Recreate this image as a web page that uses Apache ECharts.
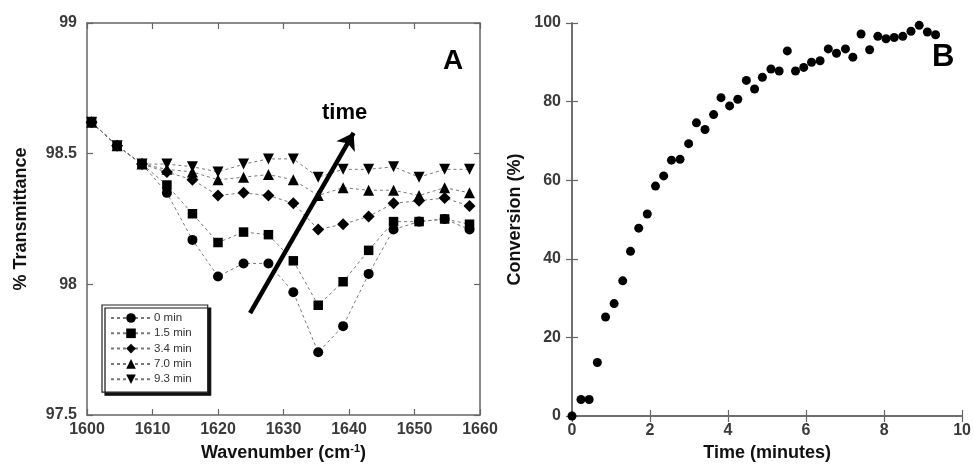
<!DOCTYPE html>
<html>
<head>
<meta charset="utf-8">
<script src="https://cdn.jsdelivr.net/npm/echarts@6/dist/echarts.min.js"></script>
<style>
html,body{margin:0;padding:0;background:#fff;}
#c{width:974px;height:470px;}
</style>
</head>
<body>
<div id="c"></div>
<script>
// ---- Panel A data ----
var wavenumber = [1600.7, 1604.6, 1608.4, 1612.2, 1616.1, 1620.0, 1623.9, 1627.7, 1631.5, 1635.3, 1639.1, 1643.0, 1646.8, 1650.7, 1654.6, 1658.4];
var t0min  = [98.62, 98.53, 98.46, 98.35, 98.17, 98.03, 98.08, 98.08, 97.97, 97.74, 97.84, 98.04, 98.21, 98.24, 98.25, 98.21];
var t15min = [98.62, 98.53, 98.46, 98.38, 98.27, 98.16, 98.20, 98.19, 98.09, 97.92, 98.01, 98.13, 98.24, 98.24, 98.25, 98.23];
var t34min = [98.62, 98.53, 98.46, 98.43, 98.40, 98.34, 98.35, 98.34, 98.31, 98.21, 98.23, 98.26, 98.31, 98.32, 98.33, 98.30];
var t70min = [98.62, 98.53, 98.46, 98.44, 98.43, 98.40, 98.41, 98.42, 98.40, 98.34, 98.37, 98.36, 98.36, 98.34, 98.37, 98.35];
var t93min = [98.62, 98.53, 98.46, 98.46, 98.45, 98.43, 98.46, 98.48, 98.48, 98.41, 98.44, 98.44, 98.45, 98.41, 98.44, 98.44];
var seriesNames = ['0 min', '1.5 min', '3.4 min', '7.0 min', '9.3 min'];
var arrowStart = [1624.9, 97.89];
var arrowEnd = [1640.7, 98.58];

// ---- Panel B data ----
var timeMin = [0, 0.23, 0.44, 0.65, 0.86, 1.08, 1.30, 1.50, 1.71, 1.93, 2.14, 2.35, 2.55, 2.77, 2.99, 3.19, 3.41, 3.63, 3.82, 4.04, 4.25, 4.47, 4.68, 4.88, 5.10, 5.31, 5.52, 5.73, 5.94, 6.14, 6.36, 6.57, 6.78, 7.01, 7.20, 7.41, 7.63, 7.84, 8.05, 8.26, 8.48, 8.69, 8.90, 9.11, 9.32];
var conversion = [0, 4.2, 4.2, 13.6, 25.2, 28.6, 34.4, 41.9, 47.8, 51.4, 58.5, 61.1, 65.1, 65.3, 69.3, 74.6, 72.9, 76.7, 81.0, 78.9, 80.6, 85.4, 83.2, 86.2, 88.3, 87.8, 92.9, 87.8, 88.7, 90.0, 90.4, 93.4, 92.3, 93.4, 91.3, 97.2, 93.2, 96.6, 96.0, 96.3, 96.6, 97.9, 99.4, 97.7, 97.0];

function zip(xs, ys){ return xs.map(function(x,i){ return [x, ys[i]]; }); }

var FONT = '"Liberation Sans", Arial, sans-serif';
var axisLineC = '#666';
var tickLabel = {color:'#3a3a3a', fontSize:16, fontWeight:'bold', fontFamily:FONT, formatter:function(v){ return String(v); }};
var nameStyle = {color:'#111', fontSize:18, fontWeight:'bold', fontFamily:FONT};

function mainAxis(gridIndex, extra){
  var a = {
    gridIndex: gridIndex,
    axisLine:{show:true, lineStyle:{color:axisLineC, width:1.5}},
    axisTick:{show:true, inside:true, length:6, lineStyle:{color:axisLineC, width:1.2}},
    splitLine:{show:false},
    axisLabel: Object.assign({}, tickLabel)
  };
  return Object.assign(a, extra);
}
function mirrorAxis(gridIndex, extra){
  var a = {
    gridIndex: gridIndex,
    axisLine:{show:true, lineStyle:{color:axisLineC, width:1.5}},
    axisTick:{show:true, inside:true, length:6, lineStyle:{color:axisLineC, width:1.2}},
    axisLabel:{show:false},
    splitLine:{show:false}
  };
  return Object.assign(a, extra);
}

var symbols = [
  {symbol:'circle', size:10, rotate:0},
  {symbol:'rect', size:9.5, rotate:0},
  {symbol:'diamond', size:12, rotate:0},
  {symbol:'triangle', size:11, rotate:0},
  {symbol:'triangle', size:11, rotate:180}
];
var dataA = [t0min, t15min, t34min, t70min, t93min];

var seriesA = dataA.map(function(vals, i){
  return {
    name: seriesNames[i],
    type:'line',
    xAxisIndex:0, yAxisIndex:0,
    data: zip(wavenumber, vals),
    symbol: symbols[i].symbol,
    symbolSize: symbols[i].size,
    symbolRotate: symbols[i].rotate,
    showAllSymbol:true,
    itemStyle:{color:'#000'},
    lineStyle:{color:'#777', width:1, type:[3,3]},
    z: 3
  };
});

var option = {
  animation:false,
  backgroundColor:'#fff',
  grid:[
    {left:87, right:494, top:23, bottom:55},
    {left:572, right:9, top:23, bottom:54}
  ],
  xAxis:[
    mainAxis(0, {type:'value', min:1600, max:1660, interval:10, position:'bottom',
      axisLabel:Object.assign({}, tickLabel, {margin:7}),
      name:'Wavenumber (cm{sup|-1})', nameLocation:'middle', nameGap:28,
      nameTextStyle:Object.assign({}, nameStyle, {rich:{sup:{fontSize:11, fontWeight:'bold', color:'#111', fontFamily:FONT, padding:[0,0,10,0]}}})}),
    mirrorAxis(0, {type:'value', min:1600, max:1660, interval:10, position:'top'}),
    mainAxis(1, {type:'value', min:0, max:10, interval:2, position:'bottom',
      axisLabel:Object.assign({}, tickLabel, {margin:7}),
      name:'Time (minutes)', nameLocation:'middle', nameGap:28, nameTextStyle:nameStyle}),
    mirrorAxis(1, {type:'value', min:0, max:10, interval:2, position:'top'})
  ],
  yAxis:[
    mainAxis(0, {type:'value', min:97.5, max:99, interval:0.5, position:'left',
      axisLabel:Object.assign({}, tickLabel, {margin:10}),
      name:'% Transmittance', nameLocation:'middle', nameGap:57, nameTextStyle:nameStyle}),
    mirrorAxis(0, {type:'value', min:97.5, max:99, interval:0.5, position:'right'}),
    mainAxis(1, {type:'value', min:0, max:100, interval:20, position:'left',
      axisLabel:Object.assign({}, tickLabel, {margin:11}),
      name:'Conversion (%)', nameLocation:'middle', nameGap:48, nameTextStyle:nameStyle}),
    mirrorAxis(1, {type:'value', min:0, max:100, interval:20, position:'right'})
  ],
  legend:{
    data: seriesNames,
    orient:'vertical',
    left:102, top:305,
    padding:[7,16,7,8],
    itemWidth:40, itemHeight:12, itemGap:3.3,
    backgroundColor:'#fff',
    borderColor:'#222', borderWidth:1.2,
    shadowColor:'#111', shadowBlur:0, shadowOffsetX:3, shadowOffsetY:3,
    textStyle:{color:'#333', fontSize:11.5, fontFamily:FONT, lineHeight:12, padding:[0,0,0,-2]},
    selectedMode:false
  },
  graphic:[
    {type:'text', left:443, top:47, style:{text:'A', font:'bold 28px "Liberation Sans", Arial, sans-serif', fill:'#000'}},
    {type:'text', left:932, top:42, style:{text:'B', font:'bold 31px "Liberation Sans", Arial, sans-serif', fill:'#000'}},
    {type:'text', left:322, top:102, style:{text:'time', font:'bold 22px "Liberation Sans", Arial, sans-serif', fill:'#000'}}
  ],
  series: seriesA.concat([
    {
      type:'lines',
      coordinateSystem:'cartesian2d',
      xAxisIndex:0, yAxisIndex:0,
      data:[{coords:[arrowStart, arrowEnd]}],
      symbol:['none','arrow'],
      symbolSize:16,
      lineStyle:{color:'#000', width:4.5, opacity:1, curveness:0},
      z:5
    },
    {
      name:'conversion',
      type:'scatter',
      xAxisIndex:2, yAxisIndex:2,
      data: zip(timeMin, conversion),
      symbol:'circle',
      symbolSize:9,
      itemStyle:{color:'#000', opacity:1}
    }
  ])
};

var chart = echarts.init(document.getElementById('c'), null, {renderer:'canvas'});
chart.setOption(option);
</script>
</body>
</html>
